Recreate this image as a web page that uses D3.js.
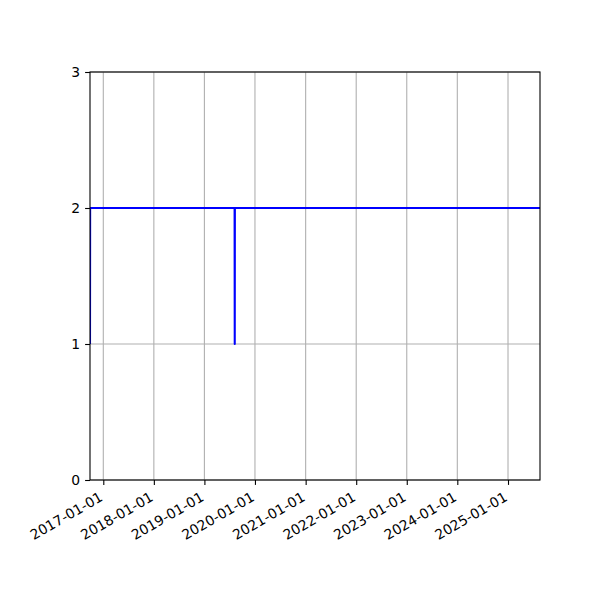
<!DOCTYPE html>
<html>
<head>
<meta charset="utf-8">
<script src="https://cdn.jsdelivr.net/npm/d3@7"></script>
<style>
  html, body { margin: 0; padding: 0; background: #fff; }
  text { font-family: "DejaVu Sans", sans-serif; }
</style>
</head>
<body>
<svg id="chart" width="600" height="600"></svg>
<script>
// Data
const dates = ["2016-09-27", "2016-09-28", "2019-08-07", "2019-08-08", "2019-08-09", "2025-08-20"];
const values = [1, 2, 2, 1, 2, 2];
const xTickLabels = ["2017-01-01", "2018-01-01", "2019-01-01", "2020-01-01", "2021-01-01",
                     "2022-01-01", "2023-01-01", "2024-01-01", "2025-01-01"];
const yTicks = [0, 1, 2, 3];

const parse = d3.timeParse("%Y-%m-%d");
const data = dates.map((d, i) => ({ date: parse(d), value: values[i] }));

const margin = { left: 90, right: 60, top: 72, bottom: 120 };
const W = 600, H = 600;
const iw = W - margin.left - margin.right, ih = H - margin.top - margin.bottom;

const svg = d3.select("#chart");
const g = svg.append("g").attr("transform", `translate(${margin.left},${margin.top})`);

const x = d3.scaleTime()
  .domain(d3.extent(data, d => d.date))
  .range([0, iw]);
const y = d3.scaleLinear().domain([0, 3]).range([ih, 0]);

const xTickDates = xTickLabels.map(parse);

// grid
g.append("g").selectAll("line.vg").data(xTickDates).join("line")
  .attr("x1", d => x(d)).attr("x2", d => x(d))
  .attr("y1", 0).attr("y2", ih)
  .attr("stroke", "#b0b0b0").attr("stroke-width", 1.1);
g.append("g").selectAll("line.hg").data(yTicks).join("line")
  .attr("x1", 0).attr("x2", iw)
  .attr("y1", d => y(d)).attr("y2", d => y(d))
  .attr("stroke", "#b0b0b0").attr("stroke-width", 1.1);

// clip
svg.append("defs").append("clipPath").attr("id", "clip")
  .append("rect").attr("width", iw).attr("height", ih);

const line = d3.line().x(d => x(d.date)).y(d => y(d.value));
g.append("path").datum(data)
  .attr("clip-path", "url(#clip)")
  .attr("d", line)
  .attr("fill", "none")
  .attr("stroke", "#0000ff")
  .attr("stroke-width", 2.08)
  .attr("stroke-linejoin", "round");

// axes
const xAxis = d3.axisBottom(x).tickValues(xTickDates)
  .tickFormat(d3.timeFormat("%Y-%m-%d")).tickSize(4.9).tickPadding(4.9);
const xg = g.append("g").attr("transform", `translate(0,${ih})`).call(xAxis);
xg.select(".domain").remove();
xg.selectAll(".tick line").attr("stroke", "#000").attr("stroke-width", 1.1);
xg.selectAll(".tick text")
  .attr("font-size", "13.9px")
  .attr("font-family", "DejaVu Sans")
  .attr("fill", "#000")
  .attr("text-anchor", "end")
  .attr("y", 0).attr("dy", "0.78em")
  .attr("transform", "translate(-5.5,10.5) rotate(-30)");

const yAxis = d3.axisLeft(y).tickValues(yTicks).tickFormat(d3.format("d")).tickSize(4.9).tickPadding(4.9);
const yg = g.append("g").call(yAxis);
yg.select(".domain").remove();
yg.selectAll(".tick line").attr("stroke", "#000").attr("stroke-width", 1.1);
yg.selectAll(".tick text")
  .attr("font-size", "13.9px")
  .attr("font-family", "DejaVu Sans")
  .attr("fill", "#000");

// spines
g.append("rect").attr("x", 0).attr("y", 0).attr("width", iw).attr("height", ih)
  .attr("fill", "none").attr("stroke", "#000").attr("stroke-width", 1.1);
</script>
</body>
</html>
